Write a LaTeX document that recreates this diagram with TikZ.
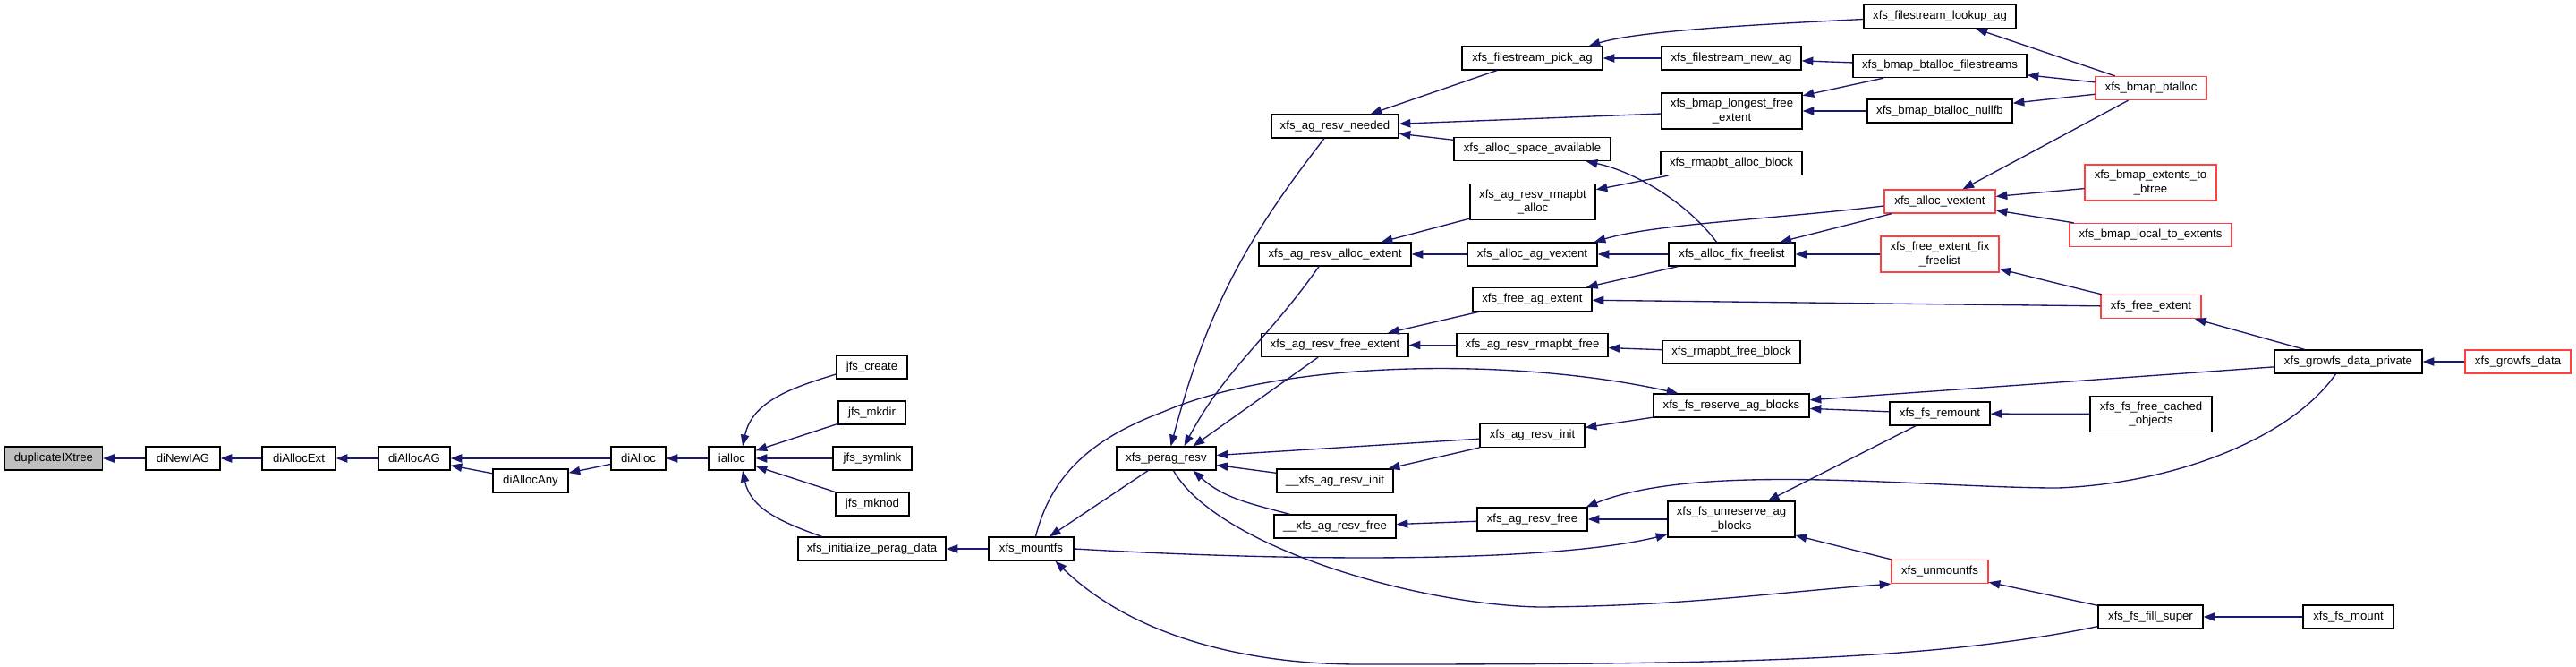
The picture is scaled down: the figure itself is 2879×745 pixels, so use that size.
\documentclass[tikz,border=0pt]{standalone}
\usepackage{fontspec}
\setmainfont{Liberation Sans}
\usetikzlibrary{arrows.meta,calc}
\definecolor{cgEdge}{HTML}{191970}
\definecolor{cgRed} {HTML}{FF4040}
\definecolor{cgGray}{HTML}{BFBFBF}

\begin{document}
\begin{tikzpicture}[x=0.75pt,y=-0.75pt,>={Triangle[length=9.5pt,width=7pt]},
      fn/.style={draw=black,line width=1pt,fill=white,inner sep=1pt,minimum height=19.5pt,
                 align=center,font=\fontsize{9.9}{11.3}\selectfont},
      wd/.style={minimum width=#1*0.75pt},
      tall/.style={minimum height=30pt},
      trunc/.style={draw=cgRed},
      ed/.style={<-,draw=cgEdge,line width=1pt}]
    \useasboundingbox (0,0) rectangle (2879,745);
    \fill[white] (0,0) rectangle (2879,745);
    \node[fn,wd=109,fill=cgGray] (dup) at (60,512) {duplicateIXtree};
    \node[fn,wd=83] (newiag) at (204.5,512) {diNewIAG};
    \node[fn,wd=82] (allocext) at (334,512) {diAllocExt};
    \node[fn,wd=80] (allocag) at (463,512) {diAllocAG};
    \node[fn,wd=84] (allocany) at (593,537) {diAllocAny};
    \node[fn,wd=61] (dialloc) at (713.5,512) {diAlloc};
    \node[fn,wd=52] (ialloc) at (818,512) {ialloc};
    \node[fn,wd=79] (jcreate) at (974.5,410) {jfs\_create};
    \node[fn,wd=75] (jmkdir) at (974.5,461) {jfs\_mkdir};
    \node[fn,wd=88] (jsymlink) at (975,512) {jfs\_symlink};
    \node[fn,wd=82] (jmknod) at (975,563) {jfs\_mknod};
    \node[fn,wd=165] (initperag) at (974.5,613) {xfs\_initialize\_perag\_data};
    \node[fn,wd=95] (mountfs) at (1152.5,613) {xfs\_mountfs};
    \node[fn,wd=111] (peragresv) at (1303.5,512) {xfs\_perag\_resv};
    \node[fn,wd=142] (resvneeded) at (1492,141) {xfs\_ag\_resv\_needed};
    \node[fn,wd=170] (resvallocext) at (1492,284) {xfs\_ag\_resv\_alloc\_extent};
    \node[fn,wd=164] (resvfreeext) at (1492,385.5) {xfs\_ag\_resv\_free\_extent};
    \node[fn,wd=130] (iresvinit) at (1492,537) {\_\_xfs\_ag\_resv\_init};
    \node[fn,wd=136] (iresvfree) at (1492,588) {\_\_xfs\_ag\_resv\_free};
    \node[fn,wd=157] (pickag) at (1712.5,65) {xfs\_filestream\_pick\_ag};
    \node[fn,wd=175] (spaceavail) at (1712.5,166.5) {xfs\_alloc\_space\_available};
    \node[fn,wd=140,tall] (rmapalloc) at (1713,225.5) {xfs\_ag\_resv\_rmapbt\\\_alloc};
    \node[fn,wd=145] (agvextent) at (1712.5,284) {xfs\_alloc\_ag\_vextent};
    \node[fn,wd=133] (freeagext) at (1712.5,334.5) {xfs\_free\_ag\_extent};
    \node[fn,wd=169] (rmapfree) at (1712.5,385.5) {xfs\_ag\_resv\_rmapbt\_free};
    \node[fn,wd=117] (resvinit) at (1712.5,486.5) {xfs\_ag\_resv\_init};
    \node[fn,wd=123] (resvfree) at (1712.5,580) {xfs\_ag\_resv\_free};
    \node[fn,wd=156] (newag) at (1935,65) {xfs\_filestream\_new\_ag};
    \node[fn,wd=157,tall] (longest) at (1935.5,124) {xfs\_bmap\_longest\_free\\\_extent};
    \node[fn,wd=158] (rmapallocblk) at (1935,182.5) {xfs\_rmapbt\_alloc\_block};
    \node[fn,wd=141] (fixfree) at (1935.5,284) {xfs\_alloc\_fix\_freelist};
    \node[fn,wd=154] (rmapfreeblk) at (1935,393.5) {xfs\_rmapbt\_free\_block};
    \node[fn,wd=174] (reserve) at (1935,453) {xfs\_fs\_reserve\_ag\_blocks};
    \node[fn,wd=142,tall] (unreserve) at (1935,580) {xfs\_fs\_unreserve\_ag\\\_blocks};
    \node[fn,wd=170] (lookupag) at (2168,18.5) {xfs\_filestream\_lookup\_ag};
    \node[fn,wd=194] (btfilestreams) at (2168,73.5) {xfs\_bmap\_btalloc\_filestreams};
    \node[fn,wd=162] (btnullfb) at (2168,124) {xfs\_bmap\_btalloc\_nullfb};
    \node[fn,wd=124,trunc] (vextent) at (2168,225) {xfs\_alloc\_vextent};
    \node[fn,wd=132,tall,trunc] (fefixfree) at (2168,284) {xfs\_free\_extent\_fix\\\_freelist};
    \node[fn,wd=112] (remount) at (2168,462) {xfs\_fs\_remount};
    \node[fn,wd=108,trunc] (unmountfs) at (2168,638.5) {xfs\_unmountfs};
    \node[fn,wd=124,trunc] (btalloc) at (2404,98.5) {xfs\_bmap\_btalloc};
    \node[fn,wd=147,tall,trunc] (extbtree) at (2403.5,204) {xfs\_bmap\_extents\_to\\\_btree};
    \node[fn,wd=181,trunc] (localext) at (2403.5,262.5) {xfs\_bmap\_local\_to\_extents};
    \node[fn,wd=112,trunc] (freeext) at (2404,342.5) {xfs\_free\_extent};
    \node[fn,wd=136,tall] (freecached) at (2404,462.5) {xfs\_fs\_free\_cached\\\_objects};
    \node[fn,wd=117] (fillsuper) at (2403.5,689) {xfs\_fs\_fill\_super};
    \node[fn,wd=165] (gdp) at (2624.5,404) {xfs\_growfs\_data\_private};
    \node[fn,wd=101] (fsmount) at (2624.5,689) {xfs\_fs\_mount};
    \node[fn,wd=118,trunc] (growfs) at (2814,404) {xfs\_growfs\_data};
    \draw[ed] (dup) -- (newiag);
    \draw[ed] (newiag) -- (allocext);
    \draw[ed] (allocext) -- (allocag);
    \draw[ed] (allocag) -- (dialloc);
    \draw[ed] (allocag) -- (allocany);
    \draw[ed] (allocany) -- (dialloc);
    \draw[ed] (dialloc) -- (ialloc);
    \draw[ed] ($(ialloc.north)+(12,0)$) to[out=78,in=197] ($(jcreate.west)+(0,8)$);
    \draw[ed] (ialloc) -- (jmkdir);
    \draw[ed] (ialloc) -- (jsymlink);
    \draw[ed] (ialloc) -- (jmknod);
    \draw[ed] ($(ialloc.south)+(12,0)$) to[out=-78,in=160] ($(initperag.north west)+(27,0)$);
    \draw[ed] (initperag) -- (mountfs);
    \draw[ed] (mountfs) -- (peragresv);
    \draw[ed] ($(peragresv.north)+(5,0)$) to[out=75,in=-128] ($(resvneeded.south)+(-12,0)$);
    \draw[ed] ($(peragresv.north)+(20,0)$) to[out=62,in=-125] ($(resvallocext.south)+(-18,0)$);
    \draw[ed] ($(peragresv.north)+(30,0)$) -- ($(resvfreeext.south)+(-19,0)$);
    \draw[ed] (peragresv) -- (resvinit);
    \draw[ed] (peragresv) -- (iresvinit);
    \draw[ed] ($(peragresv.south)+(30,0)$) to[out=-42,in=165] ($(iresvfree.north west)+(18,0)$);
    \draw[ed] (unmountfs.south west) .. controls (1980,662) and (1880,677) .. (1720,678)
                 .. controls (1580,675) and (1360,610) .. ($(peragresv.south)+(8,0)$);
    \draw[ed] ($(reserve.north west)+(28,0)$) .. controls (1700,400) and (1440,400) .. (1300,460)
                 .. controls (1220,490) and (1175,530) .. ($(mountfs.north)+(5,0)$);
    \draw[ed] ($(unreserve.west)+(0,17)$) .. controls (1750,625) and (1500,630) .. (mountfs.east);
    \draw[ed] ($(mountfs.south)+(27,0)$) .. controls (1260,705) and (1380,742) .. (1520,742)
                 .. controls (1900,742) and (2150,740) .. ($(fillsuper.south west)+(0,-3)$);
    \draw[ed] (unmountfs) -- (fillsuper);
    \draw[ed] (fillsuper) -- (fsmount);
    \draw[ed] (unreserve) -- (unmountfs);
    \draw[ed] (unreserve) -- (remount);
    \draw[ed] (reserve) -- (remount);
    \draw[ed] (remount) -- (freecached);
    \draw[ed] (reserve) -- (gdp);
    \draw[ed] ($(resvfree.north east)+(-2,0)$) .. controls (1900,515) and (2150,545) .. (2300,545)
                 .. controls (2430,540) and (2560,490) .. ($(gdp.south)+(-14,0)$);
    \draw[ed] (freeext) -- (gdp);
    \draw[ed] (gdp) -- (growfs);
    \draw[ed] (freeagext) -- (freeext);
    \draw[ed] (fefixfree) -- (freeext);
    \draw[ed] (fixfree) -- (fefixfree);
    \draw[ed] (freeagext) -- (fixfree);
    \draw[ed] ($(spaceavail.south east)+(-28,0)$) .. controls (1820,190) and (1880,220) .. ($(fixfree.north)+(-17,0)$);
    \draw[ed] (agvextent) -- (fixfree);
    \draw[ed] (resvallocext) -- (agvextent);
    \draw[ed] ($(agvextent.north east)+(-4,0)$) .. controls (1850,250) and (1980,245) .. ($(vextent.west)+(0,5)$);
    \draw[ed] (fixfree) -- (vextent);
    \draw[ed] (vextent) -- (btalloc);
    \draw[ed] (vextent) -- (extbtree);
    \draw[ed] (vextent) -- (localext);
    \draw[ed] (lookupag) -- (btalloc);
    \draw[ed] (btfilestreams) -- (btalloc);
    \draw[ed] (btnullfb) -- (btalloc);
    \draw[ed] ($(pickag.north east)+(-16,0)$) .. controls (1830,35) and (1950,28) .. ($(lookupag.west)+(0,3)$);
    \draw[ed] (pickag) -- (newag);
    \draw[ed] (newag) -- (btfilestreams);
    \draw[ed] (longest) -- (btfilestreams);
    \draw[ed] (longest) -- (btnullfb);
    \draw[ed] (resvneeded) -- (pickag);
    \draw[ed] (resvneeded) -- (longest);
    \draw[ed] (resvneeded) -- (spaceavail);
    \draw[ed] (rmapalloc) -- (rmapallocblk);
    \draw[ed] (resvallocext) -- (rmapalloc);
    \draw[ed] (rmapfree) -- (rmapfreeblk);
    \draw[ed] (resvfreeext) -- (rmapfree);
    \draw[ed] (resvfreeext) -- (freeagext);
    \draw[ed] (resvinit) -- (reserve);
    \draw[ed] (iresvinit) -- (resvinit);
    \draw[ed] (resvfree) -- (unreserve);
    \draw[ed] (iresvfree) -- (resvfree);
  \end{tikzpicture}
\end{document}
